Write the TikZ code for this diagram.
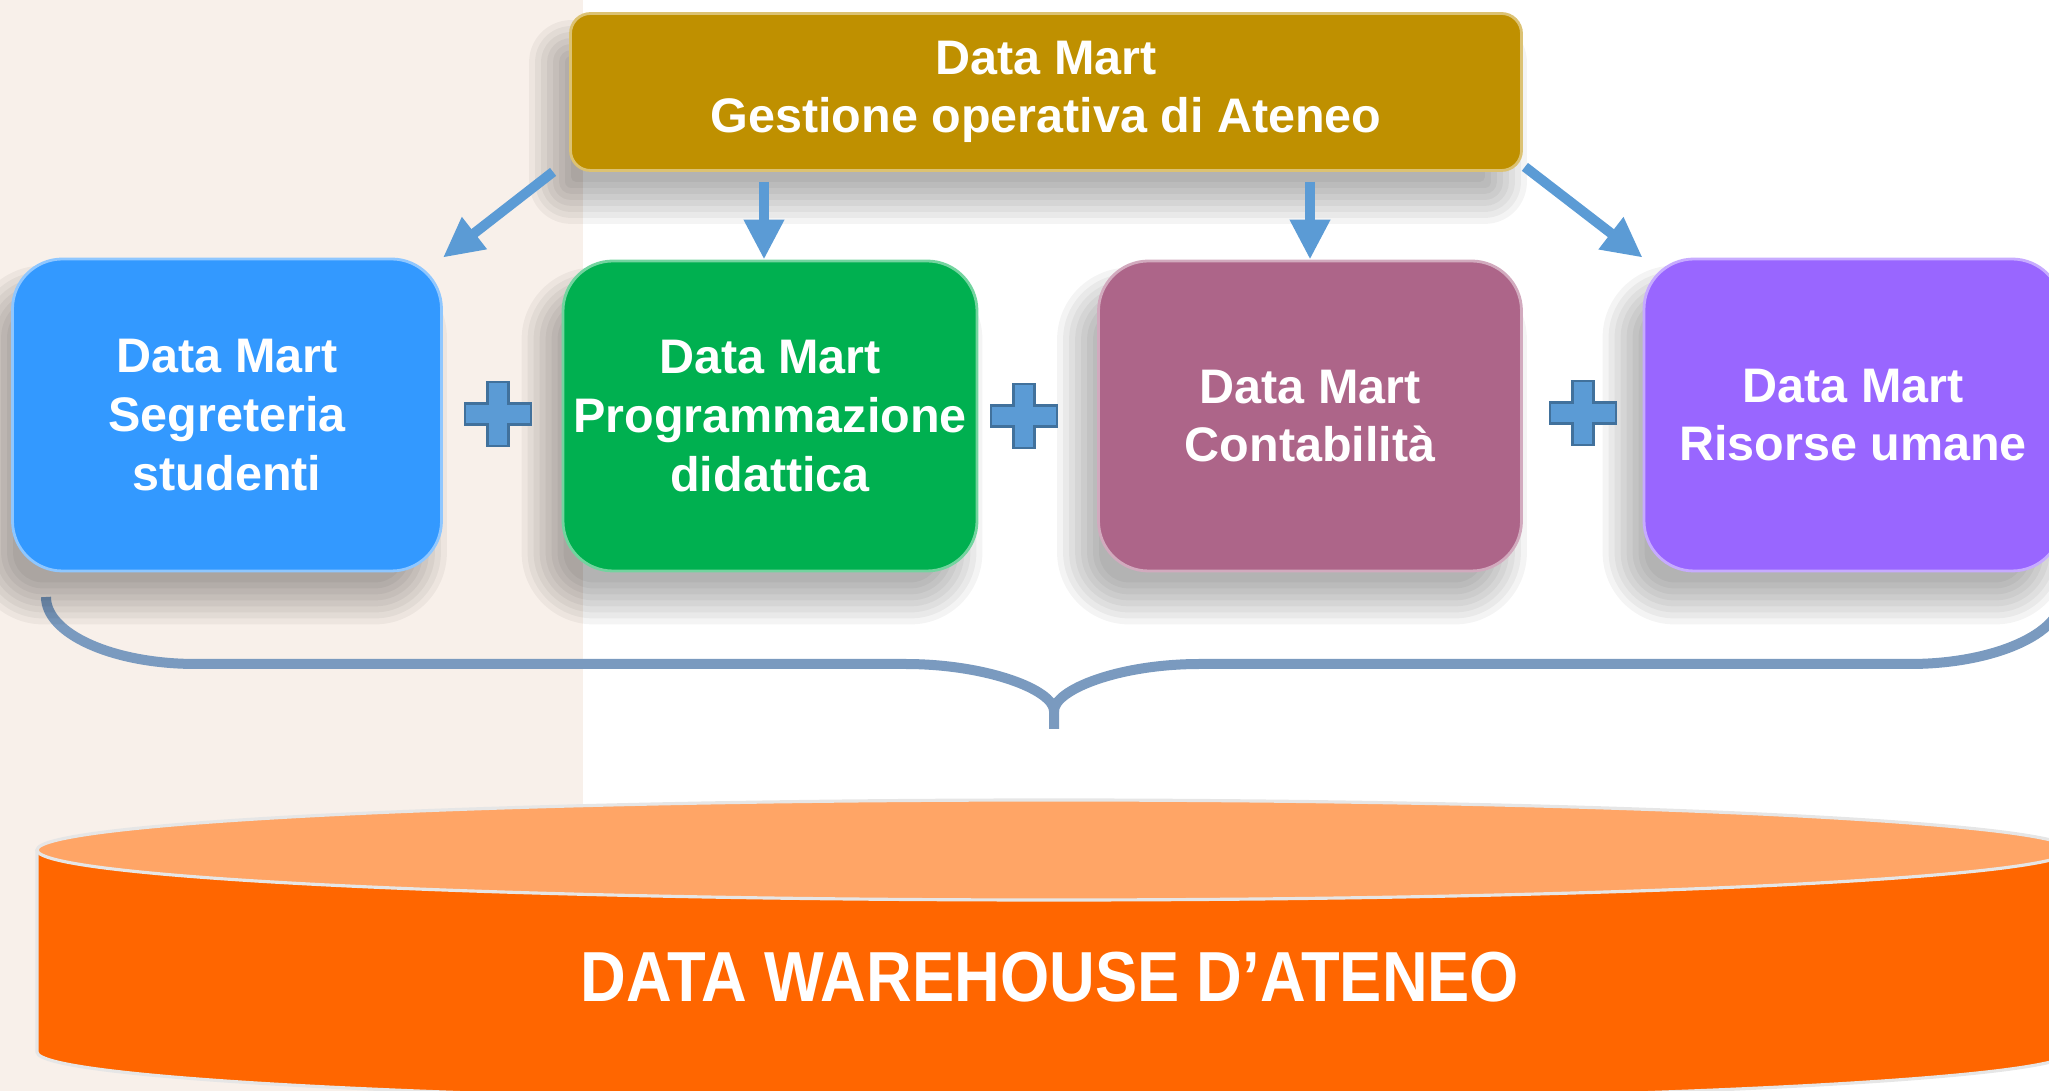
\documentclass[tikz,border=0pt]{standalone}
\usepackage{fontspec}
\setmainfont{Liberation Sans}
\usetikzlibrary{positioning,arrows.meta,calc,backgrounds}
\definecolor{dmgold}{HTML}{BF9000}
\definecolor{dmblue}{HTML}{3399FF}
\definecolor{dmgreen}{HTML}{00B050}
\definecolor{dmmauve}{HTML}{AD6589}
\definecolor{dmpurple}{HTML}{9966FF}
\definecolor{dmarrow}{HTML}{5B9BD5}
\definecolor{dmplusline}{HTML}{41719C}
\definecolor{dmbrace}{HTML}{7A9ABF}
\definecolor{dmbeige}{HTML}{F8F0EA}
\definecolor{dwtop}{HTML}{FFA566}
\definecolor{dwbody}{HTML}{FF6600}
\definecolor{dwrim}{HTML}{E6E6E6}
\newcommand{\plusmark}[1]{%
  \draw[plusmk, shift={#1}] (-0.105,0.32) -- (0.105,0.32) -- (0.105,0.105) -- (0.33,0.105) -- (0.33,-0.105) -- (0.105,-0.105) -- (0.105,-0.32) -- (-0.105,-0.32) -- (-0.105,-0.105) -- (-0.33,-0.105) -- (-0.33,0.105) -- (-0.105,0.105) -- cycle;}
% soft shadow: stacked rounded rectangles, node name and corner radius
\newcommand{\martshadow}[2]{%
  \foreach \k in {0,...,7}{%
    \pgfmathsetmacro{\ext}{0.22-0.06*\k}%
    \pgfmathsetmacro{\rc}{max(#2+\ext,0.05)}%
    \fill[black, opacity=0.045, rounded corners=\rc cm] ($(#1.south west)+(-0.18-\ext,-0.3-\ext)$) rectangle ($(#1.north east)+(-0.18+\ext,-0.3+\ext)$);}}

\begin{document}
\begin{tikzpicture}[
  mart/.style={fill=#1, draw=#1!55!white, line width=0.8pt, rounded corners=0.5cm, align=center, text=white, inner sep=0pt,
    font=\bfseries\fontsize{13.8}{16.7}\selectfont},
  flow/.style={-{Triangle[length=0.4cm, width=0.38cm]}, draw=dmarrow, line width=0.1cm},
  plusmk/.style={fill=dmarrow, draw=dmplusline, line width=0.7pt},
  rim/.style={draw=dwrim, line width=0.9pt}]
\useasboundingbox (0,0) rectangle (20.49,10.91);
\clip (0,0) rectangle (20.49,10.91);
% ===== data marts =====
\node[mart=dmgold, rounded corners=0.2cm, minimum width=9.51cm, minimum height=1.57cm] (top) at (10.46,9.99) {Data Mart\\Gestione operativa di Ateneo};
\node[mart=dmblue, minimum width=4.29cm, minimum height=3.12cm] (blue) at (2.27,6.76) {Data Mart\\Segreteria\\studenti};
\node[mart=dmgreen, minimum width=4.14cm, minimum height=3.10cm] (green) at (7.70,6.75) {Data Mart\\Programmazione\\didattica};
\node[mart=dmmauve, minimum width=4.23cm, minimum height=3.10cm] (mauve) at (13.10,6.75) {Data Mart\\Contabilità};
\node[mart=dmpurple, minimum width=4.18cm, minimum height=3.12cm] (purple) at (18.53,6.76) {Data Mart\\Risorse umane};
\plusmark{(4.98,6.77)}
\plusmark{(10.24,6.75)}
\plusmark{(15.83,6.78)}
% ===== arrows =====
\draw[flow] ([xshift=-0.16cm]top.south west) -- (blue.north east);
\draw[flow, shorten <=0.1cm] ([xshift=-0.06cm]top.south -| green.north) -- ([xshift=-0.06cm]green.north);
\draw[flow, shorten <=0.1cm] (top.south -| mauve.north) -- (mauve.north);
\draw[flow] ([xshift=0.02cm, yshift=0.05cm]top.south east) -- (purple.north west);
\begin{scope}[on background layer]
% ===== background =====
\fill[dmbeige] (0,0) rectangle (5.83,10.91);
% ===== data warehouse =====
\fill[dwbody] (0.37,2.41) -- (0.37,0.39) arc[start angle=180, end angle=360, x radius=10.17, y radius=0.5] -- (20.71,2.41) arc[start angle=0, end angle=-180, x radius=10.17, y radius=0.5] -- cycle;
\draw[rim] (0.37,2.41) -- (0.37,0.39) arc[start angle=180, end angle=360, x radius=10.17, y radius=0.5];
\filldraw[fill=dwtop, rim] (10.54,2.41) ellipse[x radius=10.17, y radius=0.5];
\node[text=white, font=\bfseries\fontsize{18}{20}\selectfont] (dw) at (10.50,1.14) {\scalebox{1}[1.12]{DATA WAREHOUSE D’ATENEO}};
% ===== brace =====
\draw[dmbrace, line width=0.1cm] (0.46,4.94) .. controls (0.46,4.57) and (1.13,4.27) .. (1.96,4.27) -- (9.05,4.27) .. controls (9.87,4.27) and (10.54,4.01) .. (10.54,3.80) -- (10.54,3.62);
\draw[dmbrace, line width=0.1cm] (10.54,3.80) .. controls (10.54,4.01) and (11.18,4.27) .. (12.00,4.27) -- (19.10,4.27) .. controls (19.93,4.27) and (20.62,4.57) .. (20.62,4.94);
% ===== shadows =====
\martshadow{top}{0.2}
\martshadow{blue}{0.5}
\martshadow{green}{0.5}
\martshadow{mauve}{0.5}
\martshadow{purple}{0.5}
\end{scope}
\end{tikzpicture}
\end{document}
